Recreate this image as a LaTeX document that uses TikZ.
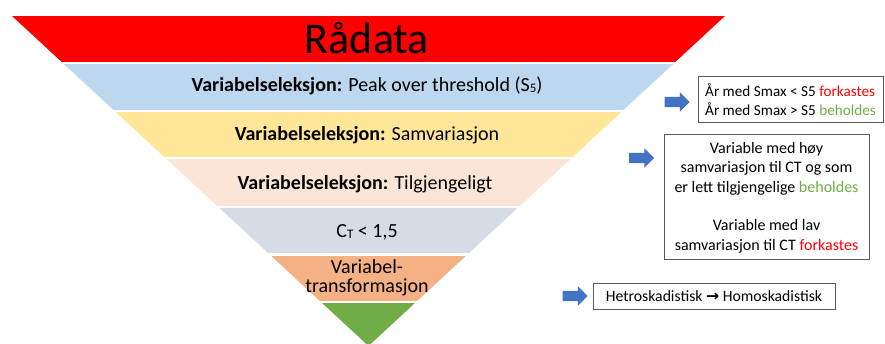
\documentclass[tikz,border=0pt]{standalone}
\usepackage{fontspec}
\setmainfont{Carlito}
\newfontfamily\symfont{DejaVu Sans}
\usetikzlibrary{shapes.arrows}

\definecolor{bandred}{HTML}{FF0000}
\definecolor{bandblue}{HTML}{BDD7EE}
\definecolor{bandyellow}{HTML}{FFE699}
\definecolor{bandpeach}{HTML}{FBE5D6}
\definecolor{bandgrey}{HTML}{D6DCE5}
\definecolor{bandorange}{HTML}{F4B183}
\definecolor{bandgreen}{HTML}{70AD47}
\definecolor{arrowblue}{HTML}{4472C4}
\definecolor{keepgreen}{HTML}{70AD47}
\definecolor{dropred}{HTML}{FF0000}

% small index sitting near the baseline, as in S5 and CT
\newcommand{\lowidx}[1]{\raisebox{-0.05ex}{\scalebox{0.65}{#1}}}

\begin{document}
\begin{tikzpicture}[x=1pt,y=-1pt,
  lvl/.style={font=\fontsize{20}{19}\selectfont,anchor=base},
  note/.style={draw=black!65,line width=1pt,fill=white,inner sep=0pt,
    font=\fontsize{15.2}{18.8}\selectfont},
  blockarrow/.style={single arrow,fill=arrowblue,draw=none,inner xsep=0pt,inner ysep=5pt,
    minimum height=25pt,minimum width=19pt,single arrow head extend=4.5pt}]
\useasboundingbox (0,0) rectangle (885,344);

% funnel bands, cut to the triangle
\begin{scope}
\clip (12,16) -- (725,16) -- (368.5,346) -- cycle;
\fill[bandred] (0,16) rectangle (885,62);
\fill[bandblue] (0,64) rectangle (885,110);
\fill[bandyellow] (0,112) rectangle (885,157);
\fill[bandpeach] (0,159) rectangle (885,206);
\fill[bandgrey] (0,208) rectangle (885,253);
\fill[bandorange] (0,256) rectangle (885,301);
\fill[bandgreen] (0,303) rectangle (885,346);
\end{scope}

\node[anchor=base,font=\fontsize{44}{44}\selectfont] (raw) at (367,54) {Rådata};
\node[lvl] (pot) at (367,92) {\textbf{Variabelseleksjon:} Peak over threshold (S\lowidx{5})};
\node[lvl] (cov) at (367,141) {\textbf{Variabelseleksjon:} Samvariasjon};
\node[lvl] (avail) at (365,190) {\textbf{Variabelseleksjon:} Tilgjengeligt};
\node[lvl] (ct) at (367,238) {C\lowidx{T} < 1,5};
\node[lvl,anchor=center,align=center] (trans) at (367,278) {Variabel-\\transformasjon};

% notes on the right
\node[note,minimum width=185pt,minimum height=46pt,align=left]
  (potnote) at (790.5,100) {År med Smax < S5 \textcolor{dropred}{forkastes}\\År med Smax > S5 \textcolor{keepgreen}{beholdes}};
\node[note,minimum width=205pt,minimum height=125pt,align=center,font=\fontsize{16}{19.5}\selectfont]
  (covnote) at (766.5,197.5) {Variable med høy\\samvariasjon til CT og som\\er lett tilgjengelige \textcolor{keepgreen}{beholdes}\\[19pt]Variable med lav\\samvariasjon til CT \textcolor{dropred}{forkastes}};
\node[note,minimum width=242pt,minimum height=25pt,font=\fontsize{15.7}{18}\selectfont]
  (transnote) at (714,296.5) {Hetroskadistisk {\symfont\bfseries →} Homoskadistisk};

\node[blockarrow] (a1) at (674.5,102) {};
\node[blockarrow] (a2) at (639,158) {};
\node[blockarrow] (a3) at (572.5,296) {};
\end{tikzpicture}
\end{document}
